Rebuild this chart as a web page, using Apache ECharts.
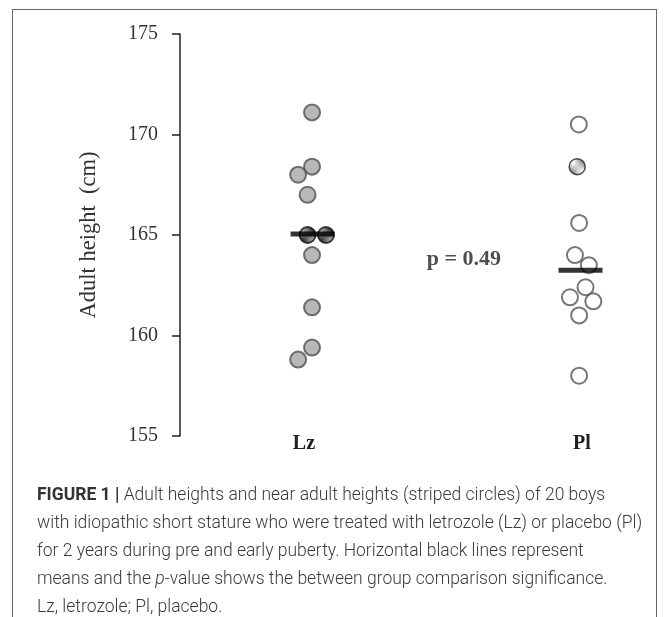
<!DOCTYPE html>
<html><head><meta charset="utf-8">
<script src="https://cdn.jsdelivr.net/npm/echarts@6/dist/echarts.min.js"></script>
<style>
html,body{margin:0;padding:0;background:#fff;}
#frame{position:absolute;left:12px;top:9px;width:645px;height:700px;border:1.5px solid #666;box-sizing:border-box;}
#c{position:absolute;left:0;top:0;width:669px;height:617px;}
</style>
</head><body><div id="frame"></div><div id="c"></div>
<script>
// ---- data ----
const groups = ['Lz', 'Pl'];
const lzHeights = [171.1, 168.4, 168.0, 167.0, 164.0, 161.4, 159.4, 158.8];
const lzJitter  = [0.029, 0.029, -0.021, 0.013, 0.029, 0.029, 0.029, -0.021];
const lzNearHeights = [165.0, 165.0];
const lzNearJitter  = [0.013, 0.079];
const plHeights = [170.5, 165.6, 164.0, 163.5, 162.4, 161.9, 161.7, 161.0, 158.0];
const plJitter  = [-0.011, -0.010, -0.025, 0.025, 0.013, -0.043, 0.041, -0.010, -0.010];
const plNearHeights = [168.4];
const plNearJitter  = [-0.017];
const groupMeans = [165.05, 163.25];
const meanOffset = [0.031, -0.005];
const yTicks = [155, 160, 165, 170, 175];
const pValueText = 'p = 0.49';
const pValuePos = [1.575, 163.8];
const yAxisName = 'Adult height  (cm)';
const captionLines = [
  '{b|FIGURE 1 |} Adult heights and near adult heights (striped circles) of 20 boys',
  'with idiopathic short stature who were treated with letrozole (Lz) or placebo (Pl)',
  'for 2 years during pre and early puberty. Horizontal black lines represent',
  'means and the {i|p}-value shows the between group comparison significance.',
  'Lz, letrozole; Pl, placebo.'
];

function stripes(bg, fg, dir, n, lw) {
  const c = document.createElement('canvas');
  c.width = n; c.height = n;
  const g = c.getContext('2d');
  g.fillStyle = bg; g.fillRect(0, 0, n, n);
  g.strokeStyle = fg; g.lineWidth = lw;
  for (let k = -n; k <= 2 * n; k += n) {
    g.beginPath();
    if (dir > 0) { g.moveTo(k, n); g.lineTo(k + n, 0); }
    else { g.moveTo(k, 0); g.lineTo(k + n, n); }
    g.stroke();
  }
  return { image: c, repeat: 'repeat' };
}

const pts = (vals, jit, gi) => vals.map((v, i) => [gi + 1 + jit[i], v]);

const serif = '"Liberation Serif", "Times New Roman", serif';
const sans = 'Roboto, "Liberation Sans", sans-serif';
const capSize = 17.5, capLH = 28;
const chart = echarts.init(document.getElementById('c'), null, { renderer: 'canvas' });
chart.setOption({
  animation: false,
  backgroundColor: 'transparent',
  title: {
    text: captionLines.join('\n'),
    left: 37, top: 482, padding: 0,
    textStyle: {
      fontFamily: sans, fontWeight: 300,
      fontSize: capSize, color: '#3a3a3a', lineHeight: capLH,
      rich: {
        b: { fontFamily: sans, fontWeight: 'bold', fontSize: capSize, color: '#333', lineHeight: capLH },
        i: { fontFamily: sans, fontStyle: 'italic', fontWeight: 300, fontSize: capSize, color: '#3a3a3a', lineHeight: capLH }
      }
    }
  },
  grid: { left: 180, top: 34, width: 460, height: 402, containLabel: false },
  xAxis: {
    type: 'value', min: 0.554, max: 2.209,
    axisLine: { show: false }, axisTick: { show: false }, splitLine: { show: false },
    axisLabel: {
      customValues: [1, 2],
      formatter: v => groups[Math.round(v) - 1] || '',
      fontFamily: serif, fontWeight: 'bold', fontSize: 20, color: '#222',
      verticalAlign: 'middle', margin: 8
    }
  },
  yAxis: {
    type: 'value', min: 155, max: 175, interval: 5,
    name: yAxisName, nameLocation: 'middle', nameGap: 79,
    nameTextStyle: { fontFamily: serif, fontSize: 22.5, color: '#333' },
    axisLine: { show: true, lineStyle: { color: '#222', width: 1.5 } },
    axisTick: { show: true, inside: false, length: 8, lineStyle: { color: '#222', width: 1.5 } },
    axisLabel: { fontFamily: serif, fontSize: 20, color: '#333', margin: 22,
      customValues: yTicks },
    splitLine: { show: false }
  },
  series: [
    { type: 'scatter', data: pts(lzHeights, lzJitter, 0), symbolSize: 16,
      itemStyle: { color: '#a6a6a6', borderColor: '#505050', borderWidth: 2 }, z: 3 },
    { type: 'scatter', data: pts(lzNearHeights, lzNearJitter, 0), symbolSize: 16,
      itemStyle: { color: stripes('#f2f2f2', '#111', 1, 7, 2.6), borderColor: '#111', borderWidth: 2 }, z: 4 },
    { type: 'scatter', data: pts(plHeights, plJitter, 1), symbolSize: 16,
      itemStyle: { color: 'rgba(255,255,255,0)', borderColor: '#555', borderWidth: 2 }, z: 3 },
    { type: 'scatter', data: pts(plNearHeights, plNearJitter, 1), symbolSize: 16,
      itemStyle: { color: stripes('#111', '#fff', -1, 7, 2.4), borderColor: '#222', borderWidth: 1.5 }, z: 4 },
    { type: 'scatter', symbol: 'rect', symbolSize: [44, 5],
      data: groupMeans.map((m, i) => [i + 1 + meanOffset[i], m]),
      itemStyle: { color: '#000' }, z: 5 },
    { type: 'scatter', symbolSize: 0, data: [pValuePos],
      label: { show: true, position: 'inside', formatter: pValueText,
        fontFamily: serif, fontWeight: 'bold', fontSize: 22, color: '#222' }, z: 6 }
  ]
});
</script>
</body></html>
